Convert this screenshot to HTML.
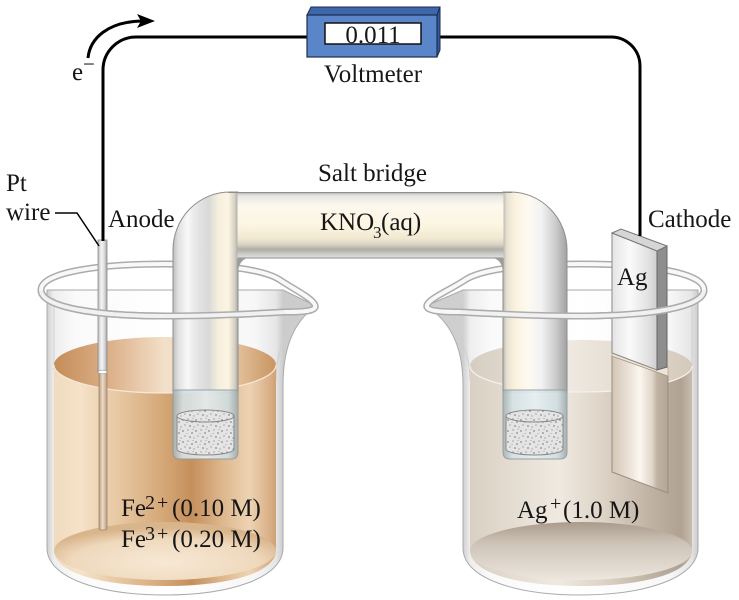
<!DOCTYPE html>
<html><head><meta charset="utf-8"><style>
html,body{margin:0;padding:0;background:#fff;}
svg{display:block;}
text{font-family:"Liberation Serif","Times New Roman",serif;fill:#161616;}
</style></head><body>
<svg width="739" height="600" viewBox="0 0 739 600" xmlns="http://www.w3.org/2000/svg">
<defs>
<linearGradient id="glassL" gradientUnits="userSpaceOnUse" x1="47" y1="0" x2="283" y2="0">
<stop offset="0" stop-color="#cfcfcf"/><stop offset=".03" stop-color="#eeeeee"/><stop offset=".12" stop-color="#fafafa"/><stop offset=".5" stop-color="#ffffff"/><stop offset=".88" stop-color="#f7f7f7"/><stop offset=".97" stop-color="#e6e6e6"/><stop offset="1" stop-color="#cccccc"/></linearGradient>
<linearGradient id="glassR" gradientUnits="userSpaceOnUse" x1="463" y1="0" x2="698" y2="0">
<stop offset="0" stop-color="#cfcfcf"/><stop offset=".03" stop-color="#eeeeee"/><stop offset=".12" stop-color="#fafafa"/><stop offset=".5" stop-color="#ffffff"/><stop offset=".88" stop-color="#f7f7f7"/><stop offset=".97" stop-color="#e6e6e6"/><stop offset="1" stop-color="#cccccc"/></linearGradient>
<linearGradient id="liqL" gradientUnits="userSpaceOnUse" x1="54" y1="0" x2="276" y2="0">
<stop offset="0" stop-color="#f1dbbf"/><stop offset=".12" stop-color="#f5e2c9"/><stop offset=".3" stop-color="#e6c6a0"/><stop offset=".5" stop-color="#d4a676"/><stop offset=".62" stop-color="#c58f5c"/><stop offset=".75" stop-color="#dcb58b"/><stop offset=".88" stop-color="#edd3b3"/><stop offset=".97" stop-color="#d9b088"/><stop offset="1" stop-color="#cfa274"/></linearGradient>
<linearGradient id="surfL" gradientUnits="userSpaceOnUse" x1="54" y1="0" x2="276" y2="0">
<stop offset="0" stop-color="#c48d58"/><stop offset=".25" stop-color="#dcb089"/><stop offset=".5" stop-color="#f3e0c9"/><stop offset=".75" stop-color="#ecd3b5"/><stop offset="1" stop-color="#c99560"/></linearGradient>
<radialGradient id="botL" cx=".5" cy=".7" r=".6">
<stop offset="0" stop-color="#f7e8d5"/><stop offset=".7" stop-color="#efd9bd"/><stop offset="1" stop-color="#d9b58c"/></radialGradient>
<linearGradient id="liqR" gradientUnits="userSpaceOnUse" x1="470" y1="0" x2="692" y2="0">
<stop offset="0" stop-color="#d9d0c4"/><stop offset=".15" stop-color="#e2dace"/><stop offset=".4" stop-color="#efe9e0"/><stop offset=".6" stop-color="#ddd3c6"/><stop offset=".8" stop-color="#c2b4a5"/><stop offset=".95" stop-color="#b0a293"/><stop offset="1" stop-color="#c8bcae"/></linearGradient>
<linearGradient id="surfR" gradientUnits="userSpaceOnUse" x1="470" y1="0" x2="692" y2="0">
<stop offset="0" stop-color="#d6cdc0"/><stop offset=".45" stop-color="#efe9e1"/><stop offset=".7" stop-color="#e4dcd0"/><stop offset="1" stop-color="#d4c9bb"/></linearGradient>
<linearGradient id="botR" x1="0" y1="0" x2="0" y2="1">
<stop offset="0" stop-color="#a99b8c"/><stop offset=".35" stop-color="#cdc2b6"/><stop offset="1" stop-color="#ece6de"/></linearGradient>
<linearGradient id="legL" gradientUnits="userSpaceOnUse" x1="173" y1="0" x2="238" y2="0">
<stop offset="0" stop-color="#bdbdbd"/><stop offset=".08" stop-color="#e0e0e0"/><stop offset=".22" stop-color="#f8f8f8"/><stop offset=".4" stop-color="#e2e2e2"/><stop offset=".55" stop-color="#d9d9d9"/><stop offset=".7" stop-color="#f6efdd"/><stop offset=".85" stop-color="#fbf4e2"/><stop offset=".95" stop-color="#d6d0c2"/><stop offset="1" stop-color="#a8a8a8"/></linearGradient>
<linearGradient id="legR" gradientUnits="userSpaceOnUse" x1="503" y1="0" x2="567" y2="0">
<stop offset="0" stop-color="#b8b6b0"/><stop offset=".06" stop-color="#e8e2d2"/><stop offset=".2" stop-color="#fbf3df"/><stop offset=".4" stop-color="#fdfaf2"/><stop offset=".6" stop-color="#f2f2f2"/><stop offset=".8" stop-color="#d0d0d0"/><stop offset="1" stop-color="#a2a2a2"/></linearGradient>
<linearGradient id="tubeH" gradientUnits="userSpaceOnUse" x1="0" y1="192" x2="0" y2="258">
<stop offset="0" stop-color="#b0b0b0"/><stop offset=".06" stop-color="#e6e6e2"/><stop offset=".2" stop-color="#fcf8ee"/><stop offset=".5" stop-color="#fcf5e2"/><stop offset=".7" stop-color="#f2e9d2"/><stop offset=".8" stop-color="#d8d2c4"/><stop offset=".87" stop-color="#aeaca4"/><stop offset=".93" stop-color="#c8c8c4"/><stop offset="1" stop-color="#e2e2e2"/></linearGradient>
<linearGradient id="subTube" x1="0" y1="0" x2="1" y2="0">
<stop offset="0" stop-color="#a7b2b3"/><stop offset=".15" stop-color="#d5e2e6"/><stop offset=".5" stop-color="#e6f0f3"/><stop offset=".85" stop-color="#cfdde1"/><stop offset="1" stop-color="#9fabad"/></linearGradient>
<linearGradient id="rodG" x1="0" y1="0" x2="1" y2="0">
<stop offset="0" stop-color="#bdbdbd"/><stop offset=".4" stop-color="#f6f6f6"/><stop offset=".7" stop-color="#dadada"/><stop offset="1" stop-color="#a5a5a5"/></linearGradient>
<linearGradient id="rodSub" x1="0" y1="0" x2="1" y2="0">
<stop offset="0" stop-color="#b99c7e"/><stop offset=".45" stop-color="#ecdcc8"/><stop offset="1" stop-color="#bb9e80"/></linearGradient>
<linearGradient id="agFront" x1="0" y1="0" x2="1" y2="0">
<stop offset="0" stop-color="#e4e4e4"/><stop offset=".4" stop-color="#fafafa"/><stop offset=".8" stop-color="#e2e2e2"/><stop offset="1" stop-color="#cfcfcf"/></linearGradient>
<linearGradient id="agSub" x1="0" y1="0" x2="1" y2="0">
<stop offset="0" stop-color="#d3c6b6"/><stop offset=".3" stop-color="#ebe2d7"/><stop offset=".5" stop-color="#fbf6ef"/><stop offset=".72" stop-color="#e0d5c8"/><stop offset=".8" stop-color="#c2b4a4"/><stop offset="1" stop-color="#b4a696"/></linearGradient>
<pattern id="speck" width="13" height="11" patternUnits="userSpaceOnUse">
<rect width="13" height="11" fill="#e4e4e4"/>
<circle cx="1" cy="2" r=".6" fill="#333"/><circle cx="6" cy="1" r=".5" fill="#444"/><circle cx="10" cy="4" r=".6" fill="#333"/>
<circle cx="3" cy="7" r=".5" fill="#444"/><circle cx="8" cy="8" r=".6" fill="#333"/><circle cx="12" cy="9" r=".5" fill="#555"/>
<circle cx="5" cy="4.5" r=".4" fill="#555"/><circle cx="11" cy="0.5" r=".4" fill="#555"/>
</pattern>
</defs>

<!-- glass bodies -->
<path d="M47,290 L47,548 C47,578 100,595 165,595 C230,595 283,578 283,548 L283,385 C283,350 293,322 316,306 L283,290 Z" fill="url(#glassL)" stroke="#aaaaaa" stroke-width="1"/>
<path d="M698,290 L698,548 C698,578 645,595 580,595 C515,595 463,578 463,548 L463,385 C463,350 452,322 426,306 L463,290 Z" fill="url(#glassR)" stroke="#aaaaaa" stroke-width="1"/>
<path d="M54,298 L54,370 M276,380 C276,350 286,328 306,312" stroke="#cfcfcf" stroke-width="1" fill="none"/>
<path d="M692,298 L692,370 M470,380 C470,350 458,328 436,312" stroke="#cfcfcf" stroke-width="1" fill="none"/>

<!-- left liquid -->
<path d="M54,365 L54,550 C54,574 105,586 165,586 C225,586 276,574 276,550 L276,365 A111,28 0 0 1 54,365 Z" fill="url(#liqL)"/>
<ellipse cx="165" cy="551" rx="111" ry="29" fill="url(#botL)"/>
<ellipse cx="165" cy="365" rx="111" ry="28" fill="url(#surfL)"/>
<path d="M54,365 A111,28 0 0 0 276,365" fill="none" stroke="#f6e8d6" stroke-width="1.2"/>

<!-- right liquid -->
<path d="M470,366 L470,550 C470,574 521,586 581,586 C641,586 692,574 692,550 L692,366 A111,26 0 0 1 470,366 Z" fill="url(#liqR)"/>
<ellipse cx="581" cy="551" rx="111" ry="29" fill="url(#botR)"/>
<ellipse cx="581" cy="366" rx="111" ry="26" fill="url(#surfR)"/>
<path d="M470,366 A111,26 0 0 0 692,366" fill="none" stroke="#f5f1ea" stroke-width="1.2"/>

<!-- full rims -->
<path d="M41,290 C41,272 100,264 165,264 C225,264 265,270 280,280 C295,290 312,298 315,305 C317,311 305,312 285,312 C250,314 210,316 165,316 C100,316 41,308 41,290 Z" fill="none" stroke="#acacac" stroke-width="7"/>
<path d="M41,290 C41,272 100,264 165,264 C225,264 265,270 280,280 C295,290 312,298 315,305 C317,311 305,312 285,312 C250,314 210,316 165,316 C100,316 41,308 41,290 Z" fill="none" stroke="#f8f8f8" stroke-width="4"/>
<path d="M704,290 C704,272 645,264 580,264 C520,264 480,270 465,280 C450,290 430,298 427,305 C425,311 440,312 460,312 C495,314 535,316 580,316 C645,316 704,308 704,290 Z" fill="none" stroke="#acacac" stroke-width="7"/>
<path d="M704,290 C704,272 645,264 580,264 C520,264 480,270 465,280 C450,290 430,298 427,305 C425,311 440,312 460,312 C495,314 535,316 580,316 C645,316 704,308 704,290 Z" fill="none" stroke="#f8f8f8" stroke-width="4"/>

<!-- salt bridge -->
<path d="M173,392 L173,250 A57,58 0 0 1 230,192 L238,192 L238,392 Z" fill="url(#legL)" stroke="#8e8e8e" stroke-width="1"/>
<path d="M503,392 L503,192 L510,192 A57,58 0 0 1 567,250 L567,392 Z" fill="url(#legR)" stroke="#8e8e8e" stroke-width="1"/>
<rect x="237.5" y="192" width="266" height="66" fill="url(#tubeH)"/>
<line x1="228" y1="192.5" x2="512" y2="192.5" stroke="#8e8e8e" stroke-width="1"/>
<line x1="238" y1="258" x2="503" y2="258" stroke="#8e8e8e" stroke-width="1"/>
<path d="M238,258 L248,258 Q239,260 238,272 Z" fill="#9c9c98"/>
<path d="M503,258 L493,258 Q502,260 503,272 Z" fill="#9c9c98"/>

<!-- submerged legs -->
<path d="M173,390 L173,452 Q173,459 180,459 L231,459 Q238,459 238,452 L238,390 Z" fill="url(#subTube)" opacity="0.9" stroke="#8f9a9c" stroke-width="1"/>
<path d="M177,416 L177,449 A28.5,6 0 0 0 234,449 L234,416 Z" fill="url(#speck)" stroke="#888" stroke-width="1"/>
<ellipse cx="205.5" cy="416" rx="28.5" ry="6" fill="url(#speck)" stroke="#888" stroke-width="1"/>
<path d="M503,390 L503,452 Q503,459 510,459 L560,459 Q567,459 567,452 L567,390 Z" fill="url(#subTube)" opacity="0.9" stroke="#8f9a9c" stroke-width="1"/>
<path d="M506,416 L506,449 A28.5,6 0 0 0 563,449 L563,416 Z" fill="url(#speck)" stroke="#888" stroke-width="1"/>
<ellipse cx="534.5" cy="416" rx="28.5" ry="6" fill="url(#speck)" stroke="#888" stroke-width="1"/>

<!-- Pt rod -->
<rect x="99" y="372" width="8" height="158" rx="2" fill="url(#rodSub)" stroke="#a08468" stroke-width="0.8"/>
<rect x="98" y="240" width="9" height="132" fill="url(#rodG)" stroke="#8a8a8a" stroke-width="0.8"/>
<ellipse cx="102.5" cy="372" rx="4.5" ry="1.8" fill="#ffffff" stroke="#999" stroke-width="0.6"/>

<!-- Ag plate -->
<polygon points="612,356 668,376 668,493 612,472" fill="url(#agSub)" stroke="#9a8c7e" stroke-width="1"/>
<polygon points="612,353 657,370 668,367 668,376 612,356" fill="#eee4d8" stroke="#a89a8c" stroke-width="0.6"/>
<polygon points="612,233 657,251 657,370 612,353" fill="url(#agFront)" stroke="#888" stroke-width="1"/>
<polygon points="657,251 667,246 667,367 657,370" fill="#8e8e8e" stroke="#666" stroke-width="1"/>
<polygon points="612,233 621,229 667,246 657,251" fill="#d6d6d6" stroke="#777" stroke-width="1"/>

<!-- front rims -->
<path d="M41,290 C41,308 100,316 165,316 C210,316 250,314 285,312" fill="none" stroke="#acacac" stroke-width="7"/>
<path d="M41,290 C41,308 100,316 165,316 C210,316 250,314 285,312" fill="none" stroke="#f8f8f8" stroke-width="4" opacity="0.9"/>
<path d="M704,290 C704,308 645,316 580,316 C535,316 495,314 460,312" fill="none" stroke="#acacac" stroke-width="7"/>
<path d="M704,290 C704,308 645,316 580,316 C535,316 495,314 460,312" fill="none" stroke="#f8f8f8" stroke-width="4" opacity="0.9"/>

<!-- wires -->
<path d="M308,37 L136,37 A33,33 0 0 0 103,70 L103,241" fill="none" stroke="#000" stroke-width="3"/>
<path d="M436,37 L611,37 A29,29 0 0 1 640,66 L640,236" fill="none" stroke="#000" stroke-width="3"/>
<path d="M88,58 C90,38 108,22 141,21" fill="none" stroke="#000" stroke-width="3"/>
<polygon points="137,14 155,21 137,28 141,21" fill="#000"/>
<polyline points="55,213 77,213 99,246" fill="none" stroke="#000" stroke-width="1.5"/>

<!-- voltmeter -->
<polygon points="307,15 311,7 440,7 437,15" fill="#3e66aa" stroke="#1c2d4d" stroke-width="1"/>
<polygon points="437,15 440,7 440,50 437,57" fill="#3258a0" stroke="#1c2d4d" stroke-width="1"/>
<rect x="307" y="15" width="130" height="42" fill="#5a86c9" stroke="#1c2d4d" stroke-width="1.2"/>
<rect x="325" y="23" width="96" height="21" fill="#fff" stroke="#111" stroke-width="1.5"/>
<text x="373" y="43" text-anchor="middle" font-size="25">0.011</text>

<!-- labels -->
<text x="373" y="82" text-anchor="middle" font-size="25">Voltmeter</text>
<text x="72" y="80" font-size="25">e</text>
<text x="83" y="71" font-size="21">−</text>
<text x="6" y="191" font-size="25">Pt</text>
<text x="6" y="220" font-size="25">wire</text>
<text x="108" y="227" font-size="25">Anode</text>
<text x="318" y="181" font-size="25">Salt bridge</text>
<text x="320" y="230" font-size="25">KNO</text>
<text x="373" y="238" font-size="17">3</text>
<text x="381" y="230" font-size="25">(aq)</text>
<text x="648" y="227" font-size="25">Cathode</text>
<text x="617" y="285" font-size="25">Ag</text>
<text x="121" y="516" font-size="25">Fe</text>
<text x="145" y="509" font-size="20" letter-spacing="2">2+</text>
<text x="172" y="516" font-size="25">(0.10 M)</text>
<text x="121" y="547" font-size="25">Fe</text>
<text x="145" y="540" font-size="20" letter-spacing="2">3+</text>
<text x="172" y="547" font-size="25">(0.20 M)</text>
<text x="517" y="518" font-size="25">Ag</text>
<text x="550" y="510" font-size="20">+</text>
<text x="563" y="518" font-size="25">(1.0 M)</text>
</svg>
</body></html>
